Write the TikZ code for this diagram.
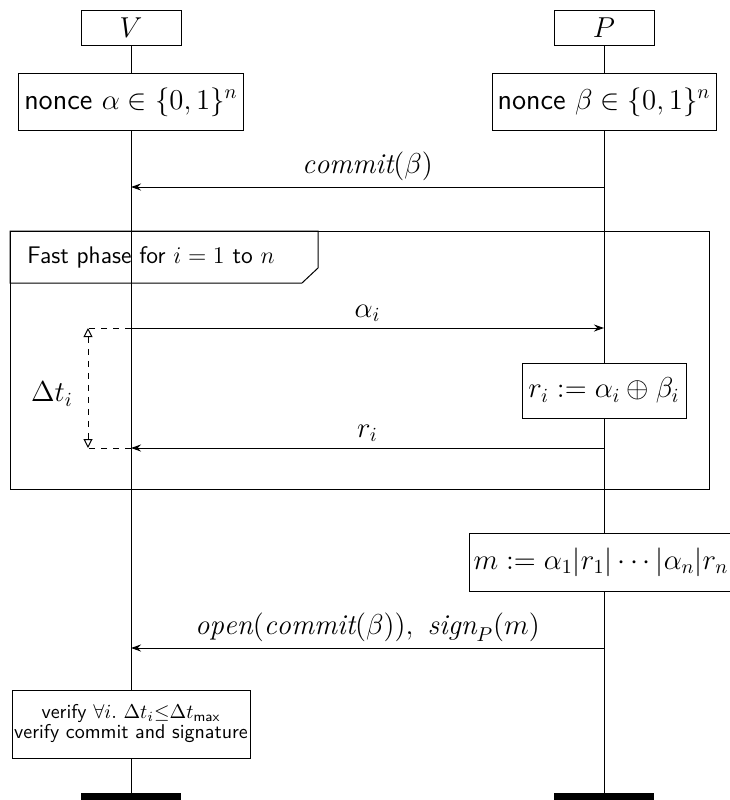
\documentclass[tikz,border=0pt]{standalone}
\usepackage{fontspec}
\usetikzlibrary{arrows.meta}
\begin{document}
\begin{tikzpicture}[x=0.5pt,y=-0.5pt,
  every node/.style={font=\Large},
  box/.style={draw,line width=0.5pt,inner sep=0pt,align=center},
  life/.style={line width=0.5pt},
  msg/.style={line width=0.5pt,-{Stealth[length=5pt,width=3.5pt]}},
  lbl/.style={above,inner sep=3pt},
  dsh/.style={dashed,line width=0.5pt},
  bar/.style={fill=black,draw=none}]
\useasboundingbox (0,0) rectangle (730,800);
% headers
\node[box,minimum width=50pt,minimum height=17.5pt] (V) at (131,27.5) {$V$};
\node[box,minimum width=50pt,minimum height=17.5pt] (P) at (604,27.5) {$P$};
\node[box,minimum width=112.5pt,minimum height=28.5pt] (na) at (131,102) {\sffamily nonce $\alpha\in\{0,1\}^n$};
\node[box,minimum width=112pt,minimum height=28.5pt] (nb) at (604,102) {\sffamily nonce $\beta\in\{0,1\}^n$};
% fast phase frame
\draw[line width=0.5pt] (10,231) rectangle (709,489);
\draw[line width=0.5pt] (10,231) -- (318,231) -- (318,268) -- (302,283) -- (10,283) -- cycle;
\node[anchor=west,font=\large\sffamily,inner sep=0pt] (fp) at (27,257) {Fast phase for $i=1$ to $n$};
% computation boxes
\node[box,minimum width=82pt,minimum height=27.5pt] (rb) at (604,390.5) {$r_i:=\alpha_i\oplus\beta_i$};
\node[box,anchor=west,inner sep=2pt,minimum height=29pt] (mb) at (469,562) {$m:=\alpha_1|r_1|\cdots|\alpha_n|r_n$};
\node[box,minimum width=119pt,minimum height=34pt,font=\normalsize\sffamily] (vf) at (131,724) {verify $\forall i.\ \Delta t_i{\leq}\Delta t_{\mathsf{max}}$\\[-2pt]verify commit and signature};
% end bars
\fill[bar] (81,793) rectangle (181,800);
\fill[bar] (554,793) rectangle (654,800);
\coordinate (endV) at (131,793);
\coordinate (endP) at (604,793);
% lifelines
\draw[life] (V.south) -- (na.north);
\draw[life] (na.south) -- (vf.north);
\draw[life] (vf.south) -- (endV);
\draw[life] (P.south) -- (nb.north);
\draw[life] (nb.south) -- (rb.north);
\draw[life] (rb.south) -- (rb.south |- mb.north);
\draw[life] (rb.south |- mb.south) -- (endP);
% messages
\coordinate (c1P) at (604,187); \coordinate (c1V) at (131,187);
\draw[msg] (c1P) -- node[lbl] {$\mathit{commit}(\beta)$} (c1V);
\coordinate (a1V) at (131,328); \coordinate (a1P) at (604,328);
\draw[msg] (a1V) -- node[lbl] {$\alpha_i$} (a1P);
\coordinate (r1P) at (604,448); \coordinate (r1V) at (131,448);
\draw[msg] (r1P) -- node[lbl] {$r_i$} (r1V);
\coordinate (o1P) at (604,648); \coordinate (o1V) at (131,648);
\draw[msg] (o1P) -- node[lbl] {$\mathit{open}(\mathit{commit}(\beta)),\ \mathit{sign}_P(m)$} (o1V);
% delta t
\coordinate (d1) at (88,328); \coordinate (d2) at (88,448);
\draw[dsh] (a1V) -- (d1);
\draw[dsh] (r1V) -- (d2);
\draw[dsh,{Triangle[open,length=4.5pt,width=4.5pt]}-{Triangle[open,length=4.5pt,width=4.5pt]}] (d1) -- (d2);
\node (dt) at (52,394) {$\Delta t_i$};
\end{tikzpicture}
\end{document}
